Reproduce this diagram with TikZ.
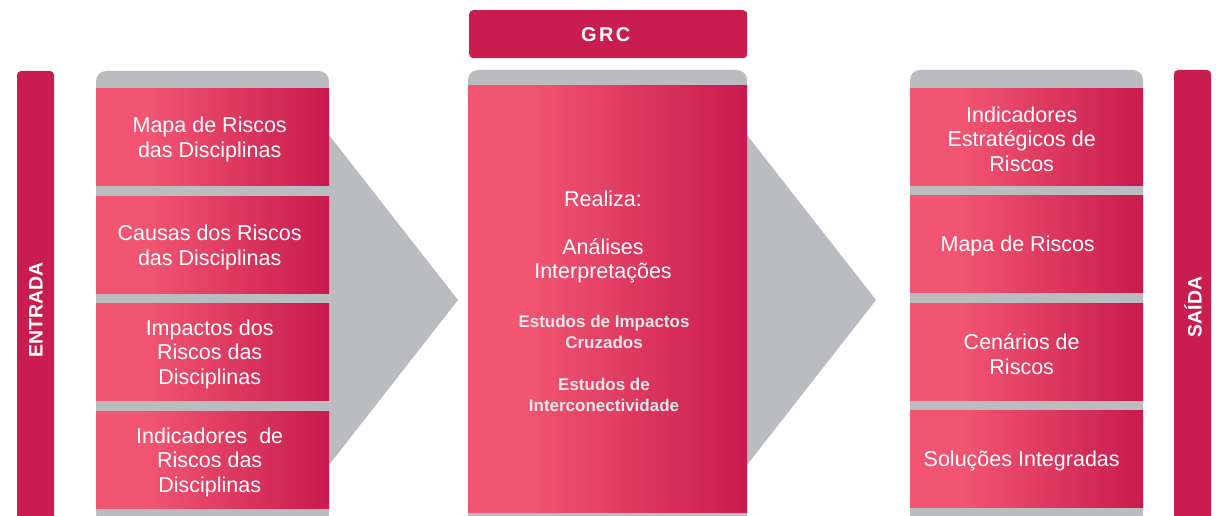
\documentclass[tikz,border=0pt]{standalone}
\usepackage{fontspec}
\setmainfont{Liberation Sans}
\definecolor{crimson}{HTML}{C91C4F}
\definecolor{pinkL}{HTML}{F15571}
\definecolor{pinkR}{HTML}{C81A4E}
\definecolor{panelgray}{HTML}{BBBCC0}
\definecolor{boldtxt}{HTML}{E8E6E8}
% light pink on the left third, deepening to crimson on the right
\pgfdeclarehorizontalshading{pinkgrad}{100bp}{color(0bp)=(pinkL); color(25bp)=(pinkL); color(36bp)=(pinkL); color(75bp)=(pinkR); color(100bp)=(pinkR)}
\tikzset{
  panel/.style={fill=panelgray, rounded corners=10pt},
  chevron/.style={fill=panelgray},
  sidebar/.style={fill=crimson, rounded corners=4pt},
  riskbox/.style={shade, shading=pinkgrad, anchor=north west, inner sep=0pt,
    minimum width=233pt, minimum height=97pt},
  bigbox/.style={shade, shading=pinkgrad, anchor=north west, inner sep=0pt,
    minimum width=279pt, minimum height=427pt},
  plaintxt/.style={text=white, align=center, inner sep=0pt,
    font=\fontsize{21.5}{24.5}\selectfont},
  boldlbl/.style={text=boldtxt, align=center, inner sep=0pt,
    font=\fontsize{17}{20.5}\selectfont\bfseries},
  sidelabel/.style={text=white, rotate=90, inner sep=0pt,
    font=\fontsize{19.5}{20}\selectfont\bfseries},
}
\begin{document}
\begin{tikzpicture}[x=1pt, y=-1pt]
\useasboundingbox (0,0) rectangle (1218,516);

% side bars
\path[sidebar] (17,71) rectangle (54,540);
\path[sidebar] (1174,70) rectangle (1211,540);
\node[sidelabel] (entrada) at (36,310) {ENTRADA};
\node[sidelabel] (saida) at (1193,307) {SAÍDA};

% header
\node[fill=crimson, rounded corners=4pt, anchor=north west, inner sep=0pt,
      minimum width=278pt, minimum height=48pt, text=white,
      font=\fontsize{20}{22}\selectfont\bfseries\addfontfeature{LetterSpace=12}]
      (grc) at (469,10) {GRC\kern5pt};

% grey panels and chevrons
\path[panel] (96,71) rectangle (329,524);
\path[panel] (468,70) rectangle (747,524);
\path[panel] (910,70) rectangle (1143,524);
\fill[chevron] (329,135) -- (458,300) -- (329,465) -- cycle;
\fill[chevron] (747,135) -- (876,300) -- (747,465) -- cycle;

% inputs
\node[riskbox] (in1) at (96,88) {};
\node[riskbox] (in2) at (96,196) {};
\node[riskbox] (in3) at (96,303) {};
\node[riskbox] (in4) at (96,411) {};
\begin{scope}[every node/.append style={plaintxt, xshift=-3pt, yshift=-2.5pt}]
\node (in1t) at (in1.center) {Mapa de Riscos\\das Disciplinas};
\node (in2t) at (in2.center) {Causas dos Riscos\\das Disciplinas};
\node (in3t) at (in3.center) {Impactos dos\\Riscos das\\Disciplinas};
\node (in4t) at (in4.center) {Indicadores\ \ de\\Riscos das\\Disciplinas};
\end{scope}

% GRC core
\node[bigbox] (core) at (468,85) {};
\node[plaintxt] (realiza) at (603,199) {Realiza:};
\node[plaintxt] (analises) at (603,261) {Análises\\Interpretações};
\node[boldlbl] (cruz) at (604,332) {Estudos de Impactos\\Cruzados};
\node[boldlbl] (inter) at (604,395) {Estudos de\\Interconectividade};

% outputs
\node[riskbox] (out1) at (910,88) {};
\node[riskbox] (out2) at (910,195) {};
\node[riskbox] (out3) at (910,303) {};
\node[riskbox] (out4) at (910,410) {};
\begin{scope}[every node/.append style={plaintxt, xshift=-5pt, yshift=-2.5pt}]
\node (out1t) at (out1.center) {Indicadores\\Estratégicos de\\Riscos};
\node[xshift=-4pt] (out2t) at (out2.center) {Mapa de Riscos};
\node (out3t) at (out3.center) {Cenários de\\Riscos};
\node (out4t) at (out4.center) {Soluções Integradas};
\end{scope}
\end{tikzpicture}
\end{document}
